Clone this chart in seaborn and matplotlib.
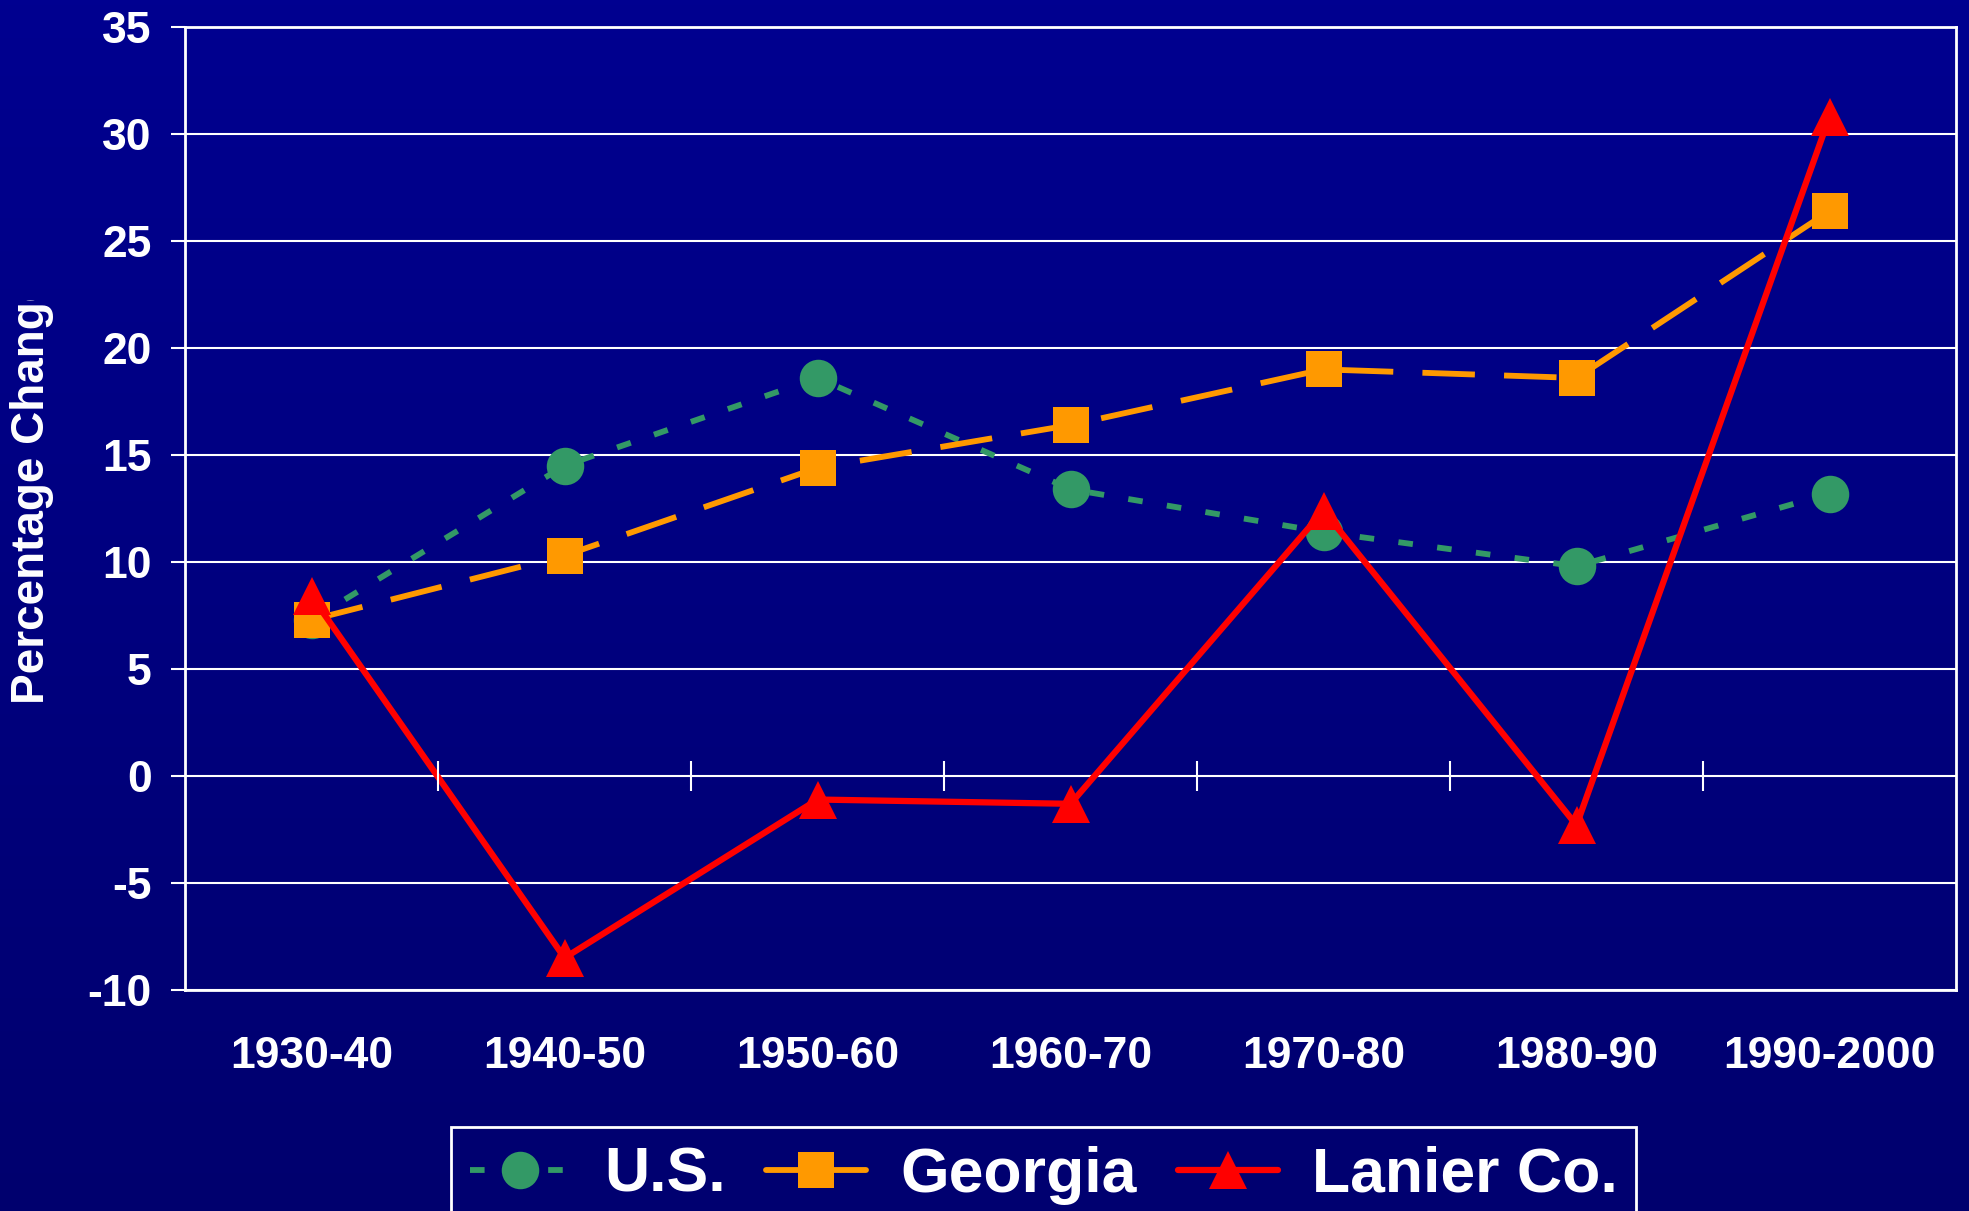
import numpy as np
import pandas as pd
import matplotlib
matplotlib.use('Agg')
import matplotlib.pyplot as plt
from matplotlib.colors import LinearSegmentedColormap
from matplotlib.lines import Line2D
from matplotlib.transforms import Bbox, TransformedBbox
import seaborn as sns

# data (percentage change per decade)
periods = ['1930-40', '1940-50', '1950-60', '1960-70', '1970-80', '1980-90', '1990-2000']
us = [7.3, 14.5, 18.6, 13.4, 11.4, 9.8, 13.2]
georgia = [7.3, 10.3, 14.4, 16.4, 19.0, 18.6, 26.4]
lanier = [8.4, -8.5, -1.1, -1.3, 12.4, -2.3, 30.8]
series = ['U.S.', 'Georgia', 'Lanier Co.']
yticks = list(range(-10, 40, 5))

colors = {'U.S.': '#339966', 'Georgia': '#FF9900', 'Lanier Co.': '#FF0000'}
dashes = {'U.S.': (2.5, 4.2), 'Georgia': (9, 5), 'Lanier Co.': ''}
markers = {'U.S.': 'o', 'Georgia': 's', 'Lanier Co.': '^'}

sns.set_style('white')
plt.rcParams['font.family'] = ['Liberation Sans', 'DejaVu Sans']
plt.rcParams['font.weight'] = 'bold'
plt.rcParams['axes.unicode_minus'] = False

df = pd.DataFrame({
    'pos': list(range(len(periods))) * 3,
    'series': [s for s in series for _ in periods],
    'change': us + georgia + lanier,
})

fig = plt.figure(figsize=(19.69, 12.11), dpi=100)

# navy gradient background
bg = fig.add_axes([0, 0, 1, 1], zorder=-10)
grad = np.linspace(0, 1, 256).reshape(-1, 1)
bg.imshow(grad, aspect='auto', extent=[0, 1, 0, 1],
          cmap=LinearSegmentedColormap.from_list('bg', ['#000090', '#00006E']))
bg.axis('off')

ax = fig.add_axes([0.094, 0.1825, 0.8994, 0.7952])
ax.set_facecolor('none')

sns.lineplot(data=df, x='pos', y='change', hue='series', style='series',
             hue_order=series, style_order=series, palette=colors,
             dashes=dashes, markers=markers, markersize=27, markeredgewidth=0,
             linewidth=4.2, legend=False, ax=ax)
lines = ax.get_lines()[:3]
lines[1].set_markersize(26)
lines[2].set_markersize(28)
lines[2].set_linewidth(4.5)

ax.set_xlim(-0.5, len(periods) - 0.5)
ax.set_ylim(-10, 35)
ax.set_yticks(yticks)
ax.set_xticks(range(len(periods)))
ax.set_xticklabels(periods)
ax.set_xlabel('')
ax.set_ylabel('')
ax.tick_params(axis='x', length=0, pad=33, labelsize=32, colors='white')
ax.tick_params(axis='y', length=10, width=1.5, pad=14, labelsize=32,
               colors='white', direction='out', left=True)
ax.yaxis.grid(True, color='white', linewidth=1.5)
ax.set_axisbelow(True)
for sp in ax.spines.values():
    sp.set_color('white')
    sp.set_linewidth(2)

# category divider ticks on the zero line
ax.vlines(np.arange(len(periods) - 1) + 0.5, -0.7, 0.7, colors='white', linewidth=1.5)

ylab = fig.text(0.016, 0.419, 'Percentage Change', rotation=90, ha='center',
                va='bottom', fontsize=33, color='white', fontweight='bold')
ylab.set_clip_box(TransformedBbox(Bbox([[0, 0], [1, 0.752]]), fig.transFigure))
ylab.set_clip_on(True)

# legend handles: Georgia's key is drawn solid in the original
handles = []
for ln, name in zip(lines, series):
    h = Line2D([], [], color=ln.get_color(), marker=ln.get_marker(),
               markersize=ln.get_markersize(), markeredgewidth=0,
               linewidth=ln.get_linewidth())
    if name == 'U.S.':
        h.set_dashes(dashes[name])
    handles.append(h)

leg = fig.legend(handles, series, loc='upper center', bbox_to_anchor=(0.53, 0.0694),
                 borderaxespad=0, ncol=3, prop={'size': 45, 'weight': 'bold'},
                 labelcolor='white', frameon=True, fancybox=False,
                 facecolor='#000070', edgecolor='white', framealpha=1,
                 handlelength=1.6, handletextpad=0.55, columnspacing=0.65,
                 borderpad=0.3)
leg.get_frame().set_linewidth(2)

fig.savefig('out.png', dpi=100)
